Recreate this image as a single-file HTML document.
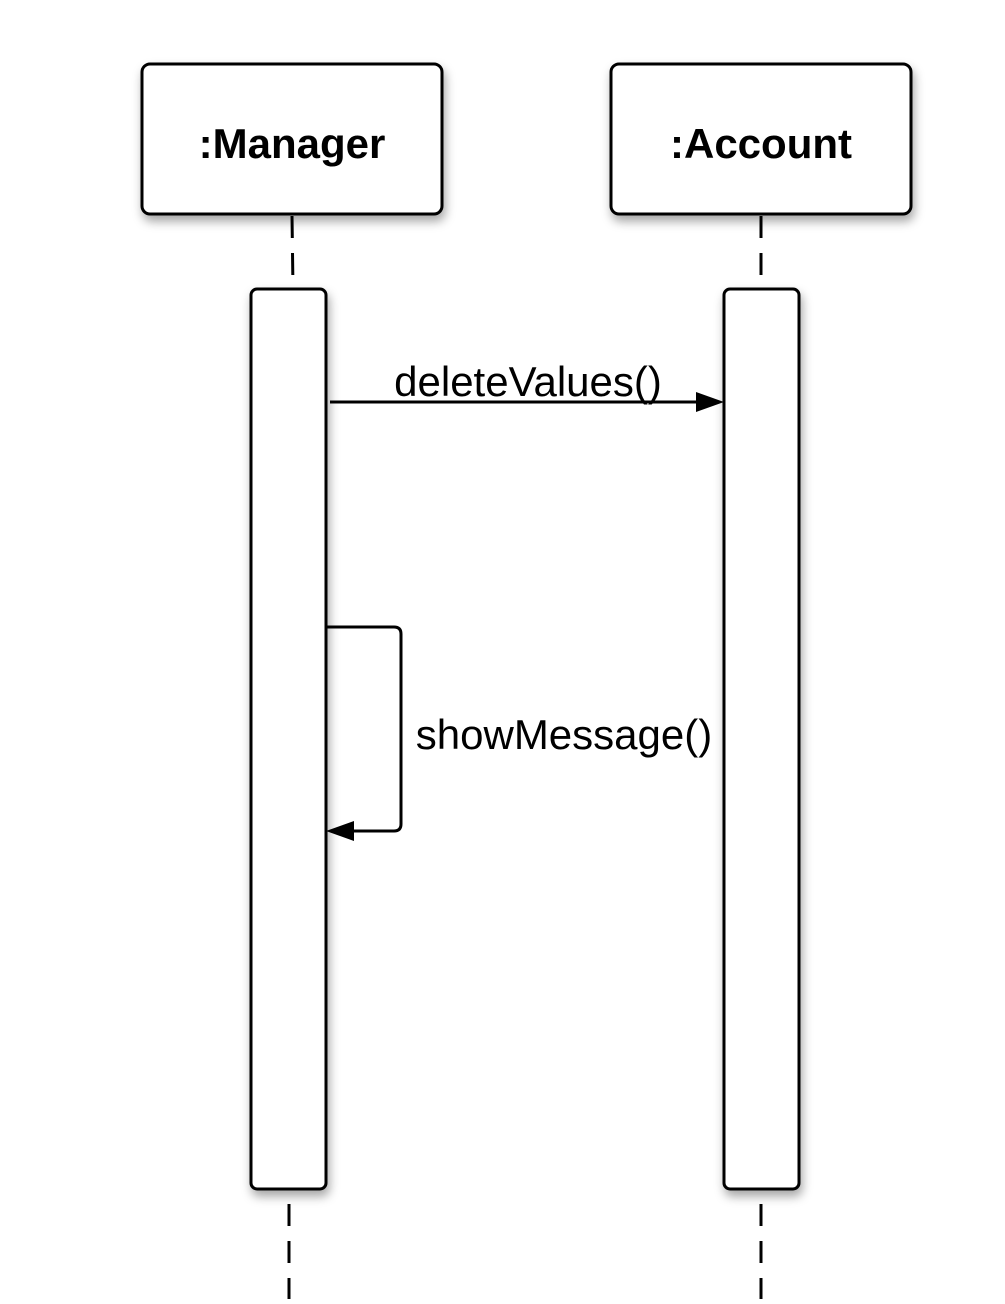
<!DOCTYPE html>
<html><head><style>body{margin:0;background:#fff}</style></head><body>
<svg width="1005" height="1299" viewBox="0 0 1005 1299" xmlns="http://www.w3.org/2000/svg">
<defs>
<filter id="sh" x="-20%" y="-20%" width="140%" height="140%"><feDropShadow dx="2" dy="6" stdDeviation="5" flood-color="#000" flood-opacity="0.35"/></filter>
</defs>
<g stroke="#000" stroke-width="3" stroke-dasharray="22,15" fill="none">
<line x1="292" y1="216" x2="293" y2="289"/>
<line x1="761" y1="216" x2="761" y2="289"/>
<line x1="289" y1="1204" x2="289" y2="1299"/>
<line x1="761" y1="1204" x2="761" y2="1299"/>
</g>
<g fill="#fff" stroke="#000" stroke-width="3" filter="url(#sh)">
<rect x="142" y="64" width="300" height="150" rx="8"/>
<rect x="611" y="64" width="300" height="150" rx="8"/>
<rect x="251" y="289" width="75" height="900" rx="6"/>
<rect x="724" y="289" width="75" height="900" rx="6"/>
</g>
<g font-family="Liberation Sans, sans-serif" text-anchor="middle">
<text x="292" y="158" font-size="42" font-weight="bold">:Manager</text>
<text x="761" y="158" font-size="42" font-weight="bold">:Account</text>
<text x="528" y="396" font-size="42">deleteValues()</text>
<text x="564" y="749" font-size="42">showMessage()</text>
</g>
<g stroke="#000" stroke-width="3" fill="none">
<line x1="330" y1="402" x2="700" y2="402"/>
<path d="M326 627 H394 Q401 627 401 634 V824 Q401 831 394 831 H350"/>
</g>
<polygon points="724,402 696,392 696,412" fill="#000"/>
<polygon points="326,831 354,821 354,841" fill="#000"/>
</svg>
</body></html>
